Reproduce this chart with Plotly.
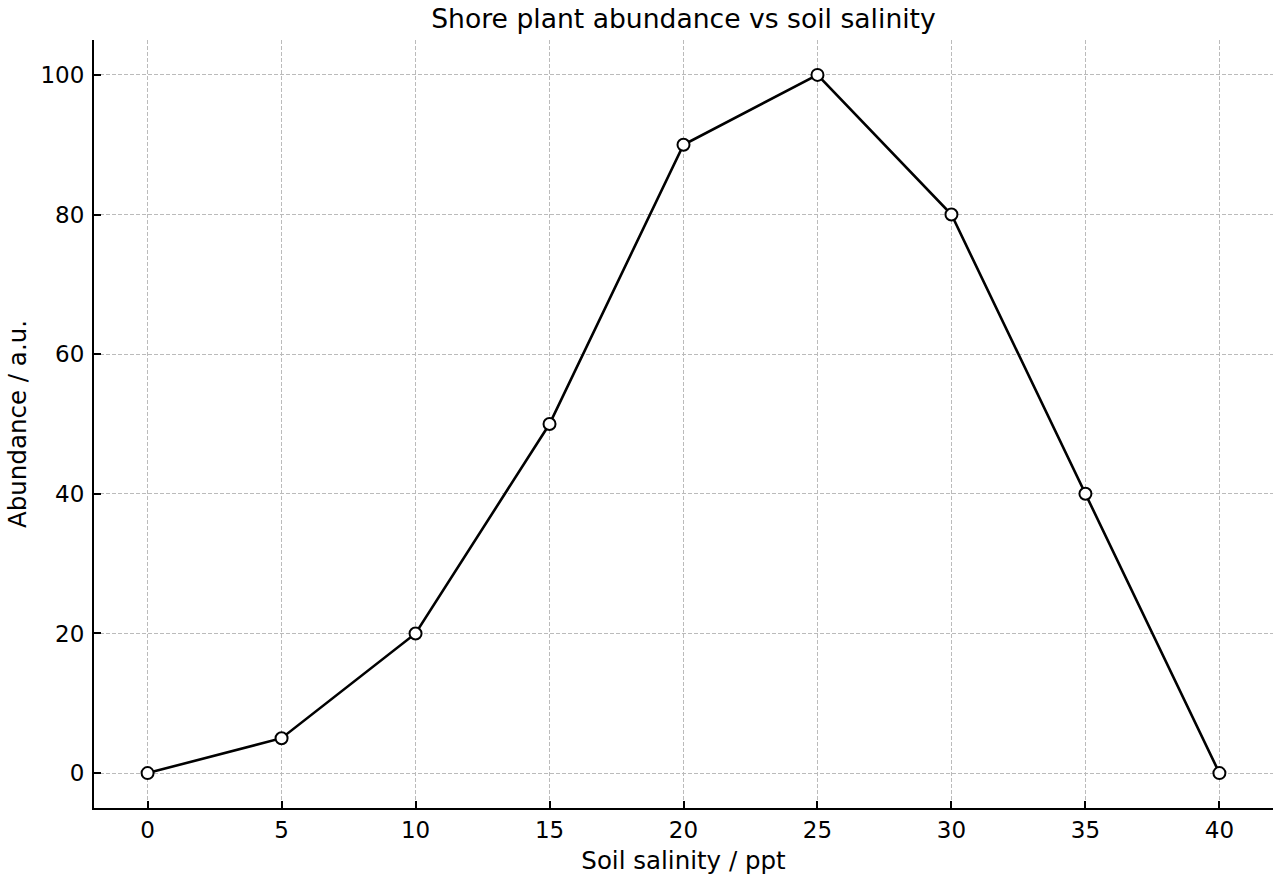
import plotly.graph_objects as go

salinity = [0, 5, 10, 15, 20, 25, 30, 35, 40]
abundance = [0, 5, 20, 50, 90, 100, 80, 40, 0]
x_ticks = [0, 5, 10, 15, 20, 25, 30, 35, 40]
y_ticks = [0, 20, 40, 60, 80, 100]

fig = go.Figure()
fig.add_trace(go.Scatter(
    x=salinity, y=abundance, mode="lines+markers",
    line=dict(color="black", width=2.6),
    marker=dict(size=12, color="white", line=dict(color="black", width=2)),
    showlegend=False,
))

font = "DejaVu Sans, sans-serif"
fig.update_layout(
    width=1280, height=880,
    margin=dict(l=94, r=7, t=40, b=72),
    paper_bgcolor="white", plot_bgcolor="white",
    font=dict(family=font, size=23, color="black"),
    title=dict(text="Shore plant abundance vs soil salinity", x=0.534, xanchor="center",
               y=0.979, yanchor="middle", font=dict(size=26.6, color="black")),
)
axis_common = dict(
    showline=True, linecolor="black", linewidth=2, mirror=False,
    ticks="inside", ticklen=7, tickwidth=2, tickcolor="black",
    showgrid=True, gridcolor="#bbbbbb", griddash="4px,2px", gridwidth=1,
    zeroline=False, tickfont=dict(size=23),
)
fig.update_xaxes(range=[-2, 42], tickvals=x_ticks,
                 title=dict(text="Soil salinity / ppt", font=dict(size=24.5), standoff=10),
                 **axis_common)
fig.update_yaxes(range=[-5, 105], tickvals=y_ticks, ticklabelstandoff=3,
                 title=dict(text="Abundance / a.u.", font=dict(size=24.5), standoff=7),
                 **axis_common)

fig.write_html("out.html")
